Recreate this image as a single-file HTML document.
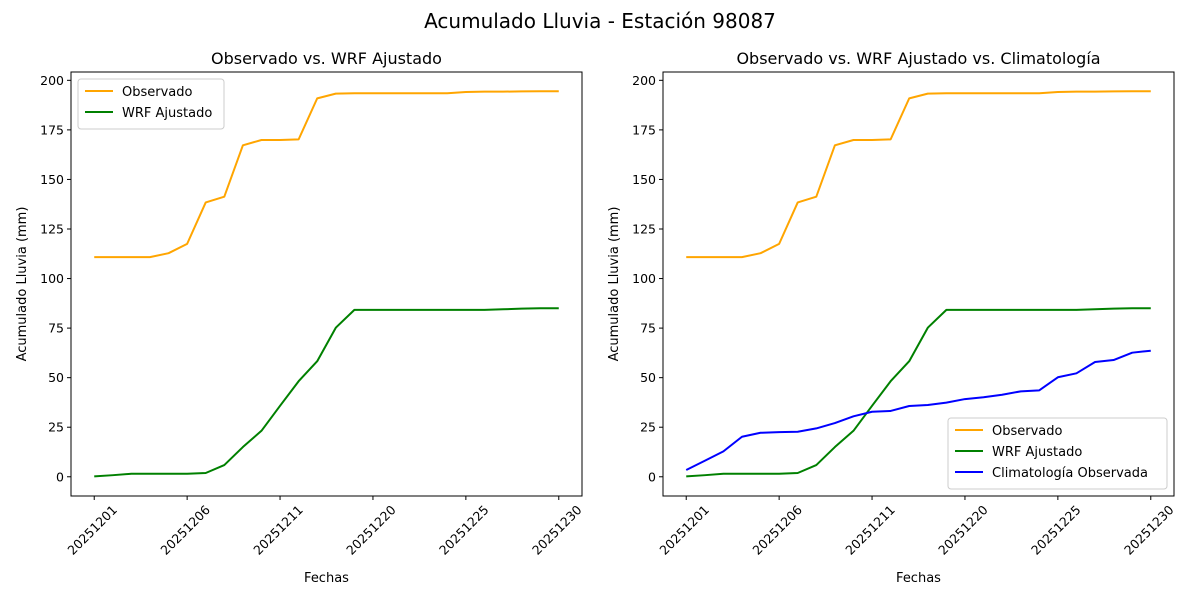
<!DOCTYPE html>
<html><head><meta charset="utf-8"><style>
html,body{margin:0;padding:0;background:#fff;}
svg{display:block;font-family:"DejaVu Sans","Liberation Sans",sans-serif;}
</style></head><body>
<svg id="chart" width="1200" height="600" viewBox="0 0 1200 600">
<text x="600" y="28" text-anchor="middle" font-size="20">Acumulado Lluvia - Estación 98087</text>
</svg>
<script>
const dates = ["20251201","20251202","20251203","20251204","20251205","20251206","20251207","20251208","20251209","20251210","20251211","20251212","20251217","20251218","20251219","20251220","20251221","20251222","20251223","20251224","20251225","20251226","20251227","20251228","20251229","20251230"];
const observado = [110.8,110.8,110.8,110.8,112.8,117.5,138.4,141.3,167.2,169.9,169.9,170.2,190.9,193.3,193.5,193.5,193.5,193.5,193.5,193.5,194.1,194.3,194.3,194.4,194.5,194.5];
const wrf = [0.2,0.8,1.5,1.5,1.5,1.5,1.9,5.9,15.0,23.2,35.8,48.2,58.3,75.2,84.2,84.2,84.2,84.2,84.2,84.2,84.2,84.2,84.5,84.8,85.0,85.0];
const clima = [3.4,8.1,12.8,20.2,22.2,22.5,22.7,24.4,27.1,30.5,32.8,33.2,35.7,36.2,37.4,39.2,40.1,41.4,43.1,43.6,50.2,52.2,57.9,58.9,62.6,63.6];
const yTicks = [0,25,50,75,100,125,150,175,200];
const xTickIdx = [0,5,10,15,20,25];

const NS="http://www.w3.org/2000/svg";
const svg=document.getElementById('chart');
function mk(tag,attrs,parent){const e=document.createElementNS(NS,tag);for(const k in attrs)e.setAttribute(k,attrs[k]);(parent||svg).appendChild(e);return e;}

function panel(px,title,series,legend){
  const L=px,R=px+511,T=72,B=496;
  const xMin=-1.25,xMax=dates.length-1+1.25,yMin=-9.7,yMax=204.2;
  const X=i=>L+(i-xMin)/(xMax-xMin)*(R-L);
  const Y=v=>B-(v-yMin)/(yMax-yMin)*(B-T);
  const g=mk('g',{});
  
  
  const t=mk('text',{x:(L+R)/2,y:64,'text-anchor':'middle','font-size':16},g);t.textContent=title;
  
  
  yTicks.forEach(v=>{
    mk('line',{x1:L-4,x2:L,y1:Y(v),y2:Y(v),stroke:'#000','stroke-width':1},g);
    const tx=mk('text',{x:L-7,y:Y(v)+4.5,'text-anchor':'end','font-size':12.5},g);tx.textContent=v;
    
    
  });
  xTickIdx.forEach(i=>{
    mk('line',{x1:X(i),x2:X(i),y1:B,y2:B+4,stroke:'#000','stroke-width':1},g);
    const tx=mk('text',{x:0,y:4.5,'text-anchor':'middle','font-size':12.5,transform:`translate(${X(i)-2},${B+34}) rotate(-45)`},g);
    tx.textContent=dates[i];
    
    
  });
  const xl=mk('text',{x:(L+R)/2,y:582,'text-anchor':'middle','font-size':13},g);xl.textContent='Fechas';
  
  
  const yl=mk('text',{x:0,y:0,'text-anchor':'middle','font-size':13,transform:`translate(${L-45},${(T+B)/2}) rotate(-90)`},g);yl.textContent='Acumulado Lluvia (mm)';
  
  
  series.forEach(s=>{
    const p=mk('polyline',{points:s.data.map((v,i)=>X(i)+','+Y(v)).join(' '),fill:'none',stroke:s.color,'stroke-width':2,'stroke-linejoin':'round'},g);
    
    
  });
  mk('rect',{x:L,y:T,width:R-L,height:B-T,fill:'none',stroke:'#000','stroke-width':1},g);
  const lw=legend.w,lh=series.length*21+8;
  const lx=legend.right?R-lw-7:L+7, ly=legend.right?B-lh-7:T+7;
  const lg=mk('g',{},g);
  
  
  mk('rect',{x:lx,y:ly,width:lw,height:lh,rx:3,fill:'#fff','fill-opacity':0.8,stroke:'#ccc'},lg);
  series.forEach((s,k)=>{
    const yy=ly+12+k*21;
    mk('line',{x1:lx+7,x2:lx+35,y1:yy,y2:yy,stroke:s.color,'stroke-width':2},lg);
    const tx=mk('text',{x:lx+44,y:yy+5,'font-size':13},lg);tx.textContent=s.label;
    
    
  });
}
const s1=[{key:'observado',label:'Observado',data:observado,color:'orange'},{key:'wrf',label:'WRF Ajustado',data:wrf,color:'green'}];
panel(71,'Observado vs. WRF Ajustado',s1,{w:146,right:false});
panel(663,'Observado vs. WRF Ajustado vs. Climatología',s1.concat([{key:'climatologia',label:'Climatología Observada',data:clima,color:'blue'}]),{w:219,right:true});
</script>
</body></html>
